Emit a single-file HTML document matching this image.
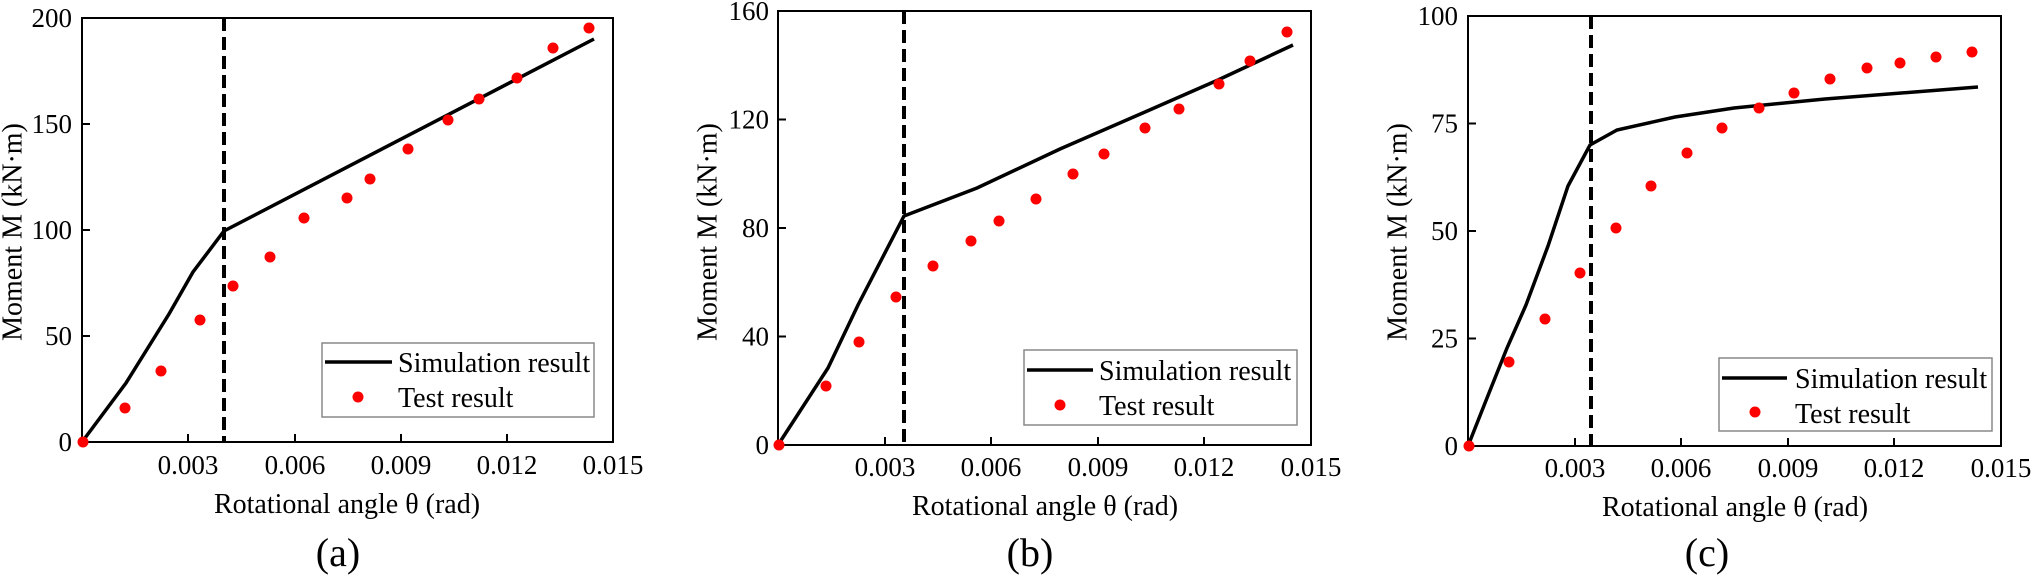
<!DOCTYPE html>
<html><head><meta charset="utf-8"><style>
html,body{margin:0;padding:0;background:#fff;}
svg{display:block;}
svg text{font-family:"Liberation Serif","Times New Roman","DejaVu Serif",serif;}
</style></head><body>
<svg width="2032" height="583" viewBox="0 0 2032 583" xmlns="http://www.w3.org/2000/svg" font-family="'Liberation Serif', 'Times New Roman', serif">
<!-- ===== Panel A ===== -->
<g font-family="Liberation Serif, serif">
<rect x="82" y="18" width="531" height="424" fill="none" stroke="#000" stroke-width="2"/>
<g stroke="#000" stroke-width="2">
<line x1="188" y1="442" x2="188" y2="434"/><line x1="295" y1="442" x2="295" y2="434"/><line x1="401" y1="442" x2="401" y2="434"/><line x1="507" y1="442" x2="507" y2="434"/>
<line x1="82" y1="336" x2="90" y2="336"/><line x1="82" y1="230" x2="90" y2="230"/><line x1="82" y1="124" x2="90" y2="124"/>
</g>
<g font-size="27" text-anchor="end">
<text x="72" y="451">0</text><text x="72" y="345">50</text><text x="72" y="239">100</text><text x="72" y="133">150</text><text x="72" y="27">200</text>
</g>
<g font-size="27" text-anchor="middle">
<text x="188" y="474">0.003</text><text x="295" y="474">0.006</text><text x="401" y="474">0.009</text><text x="507" y="474">0.012</text><text x="613" y="474">0.015</text>
</g>
<text x="347" y="513" font-size="28" text-anchor="middle">Rotational angle θ (rad)</text>
<text transform="translate(13,232) rotate(-90)" font-size="28" text-anchor="middle" dominant-baseline="central">Moment M (kN·m)</text>
<text x="338" y="566" font-size="40" text-anchor="middle">(a)</text>
<line x1="224" y1="18" x2="224" y2="442" stroke="#000" stroke-width="4" stroke-dasharray="13,6"/>
<polyline points="82,442 126,383 169,314 193,272 224,231 594,39" fill="none" stroke="#000" stroke-width="3.5"/>
<g fill="#f00">
<circle cx="83" cy="442" r="5.5"/><circle cx="125" cy="408" r="5.5"/><circle cx="161" cy="371" r="5.5"/><circle cx="200" cy="320" r="5.5"/><circle cx="233" cy="286" r="5.5"/><circle cx="270" cy="257" r="5.5"/><circle cx="304" cy="218" r="5.5"/><circle cx="347" cy="198" r="5.5"/><circle cx="370" cy="179" r="5.5"/><circle cx="408" cy="149" r="5.5"/><circle cx="448" cy="120" r="5.5"/><circle cx="479" cy="99" r="5.5"/><circle cx="517" cy="78" r="5.5"/><circle cx="553" cy="48" r="5.5"/><circle cx="589" cy="28" r="5.5"/>
</g>
<rect x="322" y="343" width="272" height="74" fill="#fff" stroke="#888" stroke-width="1.5"/>
<line x1="325" y1="362" x2="392" y2="362" stroke="#000" stroke-width="3.5"/>
<circle cx="358" cy="397" r="5.5" fill="#f00"/>
<text x="398" y="372" font-size="28">Simulation result</text>
<text x="398" y="407" font-size="28">Test result</text>
</g>
<!-- ===== Panel B ===== -->
<g font-family="Liberation Serif, serif">
<rect x="778" y="11" width="533" height="434" fill="none" stroke="#000" stroke-width="2"/>
<g stroke="#000" stroke-width="2">
<line x1="885" y1="445" x2="885" y2="437"/><line x1="991" y1="445" x2="991" y2="437"/><line x1="1098" y1="445" x2="1098" y2="437"/><line x1="1204" y1="445" x2="1204" y2="437"/>
<line x1="778" y1="336.5" x2="786" y2="336.5"/><line x1="778" y1="228" x2="786" y2="228"/><line x1="778" y1="119.5" x2="786" y2="119.5"/>
</g>
<g font-size="27" text-anchor="end">
<text x="769" y="454">0</text><text x="769" y="345.5">40</text><text x="769" y="237">80</text><text x="769" y="128.5">120</text><text x="769" y="20">160</text>
</g>
<g font-size="27" text-anchor="middle">
<text x="885" y="476">0.003</text><text x="991" y="476">0.006</text><text x="1098" y="476">0.009</text><text x="1204" y="476">0.012</text><text x="1311" y="476">0.015</text>
</g>
<text x="1045" y="515" font-size="28" text-anchor="middle">Rotational angle θ (rad)</text>
<text transform="translate(708,232) rotate(-90)" font-size="28" text-anchor="middle" dominant-baseline="central">Moment M (kN·m)</text>
<text x="1030" y="566" font-size="40" text-anchor="middle">(b)</text>
<line x1="904" y1="11" x2="904" y2="445" stroke="#000" stroke-width="4" stroke-dasharray="13,6"/>
<polyline points="778,445 828,368 858,305 904,216 977,188 1060,149 1145,112 1218,80 1293,45" fill="none" stroke="#000" stroke-width="3.5"/>
<g fill="#f00">
<circle cx="779" cy="445" r="5.5"/><circle cx="826" cy="386" r="5.5"/><circle cx="859" cy="342" r="5.5"/><circle cx="896" cy="297" r="5.5"/><circle cx="933" cy="266" r="5.5"/><circle cx="971" cy="241" r="5.5"/><circle cx="999" cy="221" r="5.5"/><circle cx="1036" cy="199" r="5.5"/><circle cx="1073" cy="174" r="5.5"/><circle cx="1104" cy="154" r="5.5"/><circle cx="1145" cy="128" r="5.5"/><circle cx="1179" cy="109" r="5.5"/><circle cx="1219" cy="84" r="5.5"/><circle cx="1250" cy="61" r="5.5"/><circle cx="1287" cy="32" r="5.5"/>
</g>
<rect x="1024" y="350" width="273" height="75" fill="#fff" stroke="#888" stroke-width="1.5"/>
<line x1="1027" y1="370" x2="1093" y2="370" stroke="#000" stroke-width="3.5"/>
<circle cx="1060" cy="405" r="5.5" fill="#f00"/>
<text x="1099" y="380" font-size="28">Simulation result</text>
<text x="1099" y="415" font-size="28">Test result</text>
</g>
<!-- ===== Panel C ===== -->
<g font-family="Liberation Serif, serif">
<rect x="1468" y="16" width="533" height="430" fill="none" stroke="#000" stroke-width="2"/>
<g stroke="#000" stroke-width="2">
<line x1="1575" y1="446" x2="1575" y2="438"/><line x1="1681" y1="446" x2="1681" y2="438"/><line x1="1788" y1="446" x2="1788" y2="438"/><line x1="1894" y1="446" x2="1894" y2="438"/>
<line x1="1468" y1="338.5" x2="1476" y2="338.5"/><line x1="1468" y1="231" x2="1476" y2="231"/><line x1="1468" y1="123.5" x2="1476" y2="123.5"/>
</g>
<g font-size="27" text-anchor="end">
<text x="1458" y="455">0</text><text x="1458" y="347.5">25</text><text x="1458" y="240">50</text><text x="1458" y="132.5">75</text><text x="1458" y="25">100</text>
</g>
<g font-size="27" text-anchor="middle">
<text x="1575" y="477">0.003</text><text x="1681" y="477">0.006</text><text x="1788" y="477">0.009</text><text x="1894" y="477">0.012</text><text x="2001" y="477">0.015</text>
</g>
<text x="1735" y="516" font-size="28" text-anchor="middle">Rotational angle θ (rad)</text>
<text transform="translate(1398,232) rotate(-90)" font-size="28" text-anchor="middle" dominant-baseline="central">Moment M (kN·m)</text>
<text x="1707" y="566" font-size="40" text-anchor="middle">(c)</text>
<line x1="1591" y1="16" x2="1591" y2="446" stroke="#000" stroke-width="4" stroke-dasharray="13,6"/>
<polyline points="1468,446 1487,398 1507,348 1526,305 1548,246 1568,186 1590,145 1617,130 1675,117 1734,108 1825,99 1978,87" fill="none" stroke="#000" stroke-width="3.5"/>
<g fill="#f00">
<circle cx="1469" cy="446" r="5.5"/><circle cx="1509" cy="362" r="5.5"/><circle cx="1545" cy="319" r="5.5"/><circle cx="1580" cy="273" r="5.5"/><circle cx="1616" cy="228" r="5.5"/><circle cx="1651" cy="186" r="5.5"/><circle cx="1687" cy="153" r="5.5"/><circle cx="1722" cy="128" r="5.5"/><circle cx="1759" cy="108" r="5.5"/><circle cx="1794" cy="93" r="5.5"/><circle cx="1830" cy="79" r="5.5"/><circle cx="1867" cy="68" r="5.5"/><circle cx="1900" cy="63" r="5.5"/><circle cx="1936" cy="57" r="5.5"/><circle cx="1972" cy="52" r="5.5"/>
</g>
<rect x="1719" y="358" width="273" height="73" fill="#fff" stroke="#888" stroke-width="1.5"/>
<line x1="1722" y1="378" x2="1787" y2="378" stroke="#000" stroke-width="3.5"/>
<circle cx="1755" cy="412" r="5.5" fill="#f00"/>
<text x="1795" y="388" font-size="28">Simulation result</text>
<text x="1795" y="423" font-size="28">Test result</text>
</g>
</svg>
</body></html>
